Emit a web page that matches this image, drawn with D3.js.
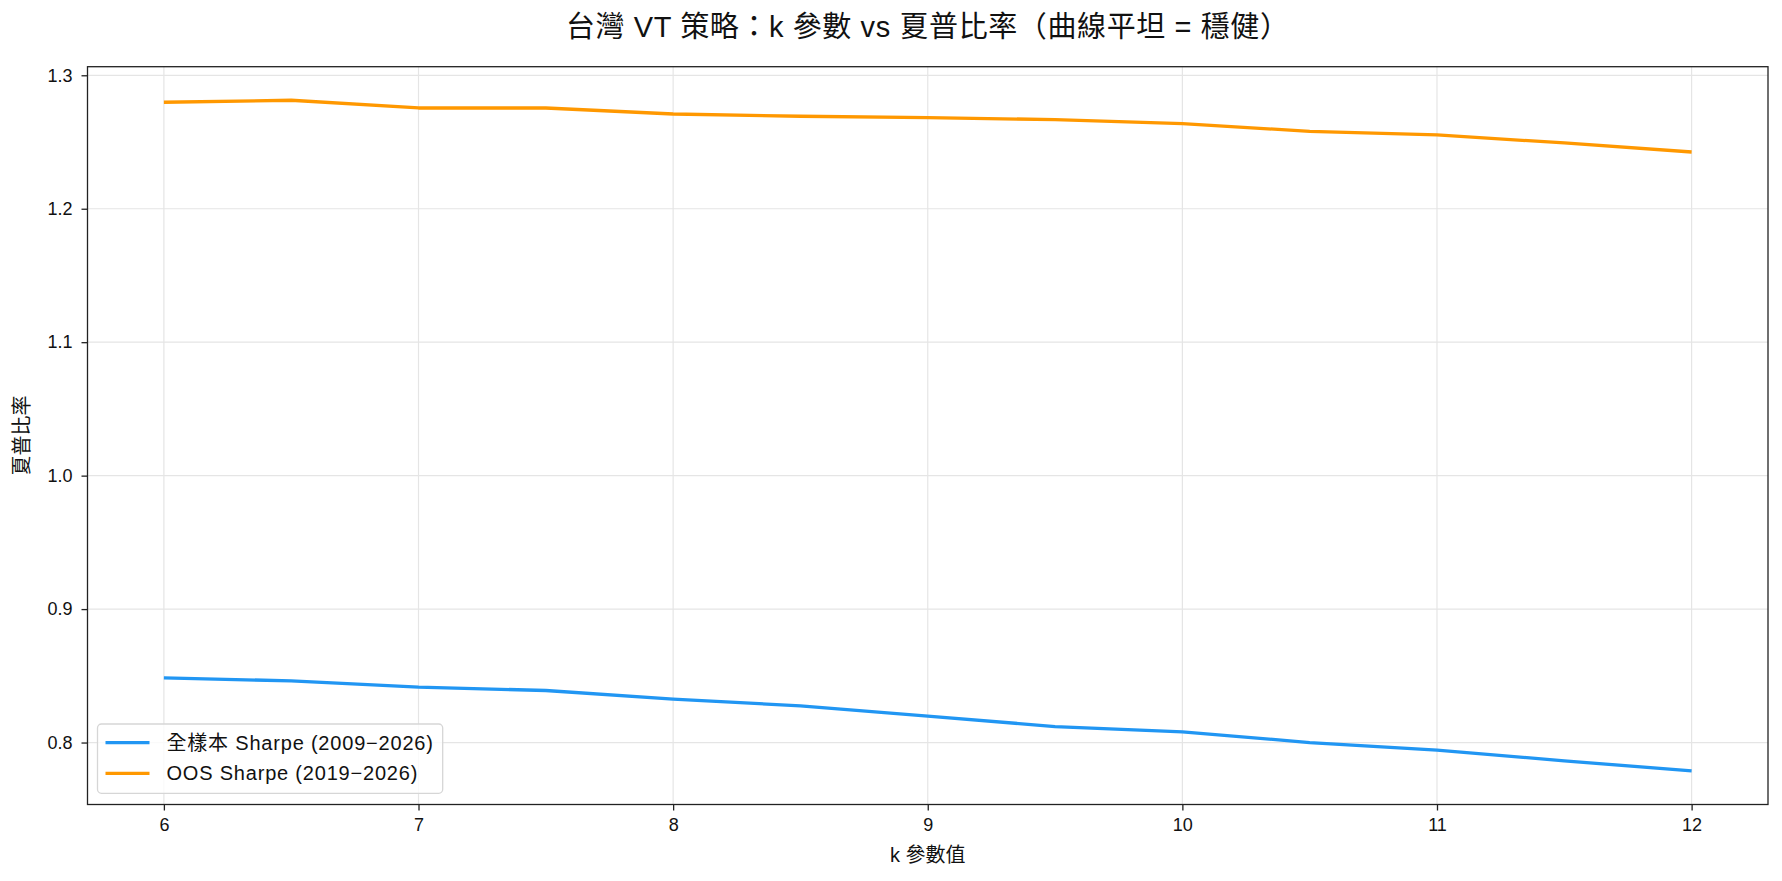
<!DOCTYPE html>
<html>
<head>
<meta charset="utf-8">
<script src="https://cdn.jsdelivr.net/npm/d3@7"></script>
<style>
  body { margin: 0; background: #fff; }
  text { font-family: "Liberation Sans", "Noto Sans CJK TC", sans-serif; fill: #111; }
</style>
</head>
<body>
<script>
// data
const kValues = [6, 6.5, 7, 7.5, 8, 8.5, 9, 9.5, 10, 10.5, 11, 11.5, 12];
const fullSharpe = [0.8485, 0.8462, 0.8415, 0.8390, 0.8325, 0.8275, 0.8198, 0.8120, 0.8080, 0.8000, 0.7943, 0.7863, 0.7787];
const oosSharpe = [1.2798, 1.2813, 1.2755, 1.2755, 1.2710, 1.2693, 1.2682, 1.2668, 1.2638, 1.2580, 1.2553, 1.2493, 1.2425];
const seriesNames = ["全樣本 Sharpe (2009\u22122026)", "OOS Sharpe (2019\u22122026)"];
const seriesColors = ["#2196F3", "#FF9800"];
const xTicks = [6, 7, 8, 9, 10, 11, 12];
const yTicks = [0.8, 0.9, 1.0, 1.1, 1.2, 1.3];

const width = 1782, height = 881;
const margin = {top: 66.7, right: 14, bottom: 76.5, left: 87.5};

const svg = d3.select("body").append("svg")
  .attr("width", width)
  .attr("height", height);

// matplotlib-like 5% auto margins
const xPad = (d3.max(kValues) - d3.min(kValues)) * 0.05;
const allY = fullSharpe.concat(oosSharpe);
const yPad = (d3.max(allY) - d3.min(allY)) * 0.05;

const x = d3.scaleLinear()
  .domain([d3.min(kValues) - xPad, d3.max(kValues) + xPad])
  .range([margin.left, width - margin.right]);

const y = d3.scaleLinear()
  .domain([d3.min(allY) - yPad, d3.max(allY) + yPad])
  .range([height - margin.bottom, margin.top]);

// grid
svg.append("g")
  .attr("stroke", "#e5e5e5")
  .attr("stroke-width", 1.2)
  .call(g => g.selectAll("line.gx").data(xTicks).enter().append("line")
    .attr("x1", d => x(d)).attr("x2", d => x(d))
    .attr("y1", margin.top).attr("y2", height - margin.bottom))
  .call(g => g.selectAll("line.gy").data(yTicks).enter().append("line")
    .attr("y1", d => y(d)).attr("y2", d => y(d))
    .attr("x1", margin.left).attr("x2", width - margin.right));

const xAxis = g => g
  .attr("transform", `translate(0,${height - margin.bottom})`)
  .call(d3.axisBottom(x).tickValues(xTicks).tickFormat(d3.format("d")).tickSizeOuter(0).tickSize(6).tickPadding(8))
  .call(g => g.select(".domain").remove());

const yAxis = g => g
  .attr("transform", `translate(${margin.left},0)`)
  .call(d3.axisLeft(y).tickValues(yTicks).tickFormat(d3.format(".1f")).tickSizeOuter(0).tickSize(6).tickPadding(9))
  .call(g => g.select(".domain").remove());

svg.append("g").call(xAxis);
svg.append("g").call(yAxis);

svg.selectAll(".tick line").attr("stroke", "#222").attr("stroke-width", 1.3);
svg.selectAll(".tick text")
  .style("font-family", '"Liberation Sans", "Noto Sans CJK TC", sans-serif')
  .style("font-size", "18px")
  .attr("fill", "#111");

// lines
const line = d3.line()
  .x((d, i) => x(kValues[i]))
  .y(d => y(d));

[fullSharpe, oosSharpe].forEach((s, i) => {
  svg.append("path")
    .datum(s)
    .attr("fill", "none")
    .attr("stroke", seriesColors[i])
    .attr("stroke-width", 3.3)
    .attr("stroke-linejoin", "round")
    .attr("d", line);
});

// frame
svg.append("rect")
  .attr("x", margin.left)
  .attr("y", margin.top)
  .attr("width", width - margin.left - margin.right)
  .attr("height", height - margin.top - margin.bottom)
  .attr("fill", "none")
  .attr("stroke", "#222")
  .attr("stroke-width", 1.3);

// title and labels
svg.append("text")
  .attr("x", (margin.left + width - margin.right) / 2)
  .attr("y", 37)
  .attr("text-anchor", "middle")
  .style("font-size", "29px")
  .style("letter-spacing", "0.6px")
  .text("台灣 VT 策略：k 參數 vs 夏普比率（曲線平坦 = 穩健）");

svg.append("text")
  .attr("x", (margin.left + width - margin.right) / 2)
  .attr("y", 862)
  .attr("text-anchor", "middle")
  .style("font-size", "20px")
  .text("k 參數值");

svg.append("text")
  .attr("transform", `translate(29,${(margin.top + height - margin.bottom) / 2}) rotate(-90)`)
  .attr("text-anchor", "middle")
  .style("font-size", "20px")
  .text("夏普比率");

// legend
const legend = svg.append("g");
const legBox = legend.append("rect")
  .attr("fill", "#fff")
  .attr("fill-opacity", 0.8)
  .attr("stroke", "#d6d6d6")
  .attr("stroke-width", 1.3)
  .attr("rx", 4);

const lx = margin.left + 10, ly0 = 742.7, lstep = 30.6;
seriesNames.forEach((name, i) => {
  legend.append("line")
    .attr("x1", lx + 8).attr("x2", lx + 52)
    .attr("y1", ly0 + i * lstep).attr("y2", ly0 + i * lstep)
    .attr("stroke", seriesColors[i])
    .attr("stroke-width", 3.3);
  legend.append("text")
    .attr("class", "legtext")
    .attr("x", lx + 69)
    .attr("y", ly0 + i * lstep)
    .attr("dy", "0.35em")
    .style("font-size", "20px")
    .style("letter-spacing", "0.8px")
    .text(name);
});

const textRight = d3.max(legend.selectAll(".legtext").nodes(), n => n.getBBox().x + n.getBBox().width);
legBox
  .attr("x", lx)
  .attr("y", 724)
  .attr("width", textRight + 9 - lx)
  .attr("height", 69.3);
</script>
</body>
</html>
